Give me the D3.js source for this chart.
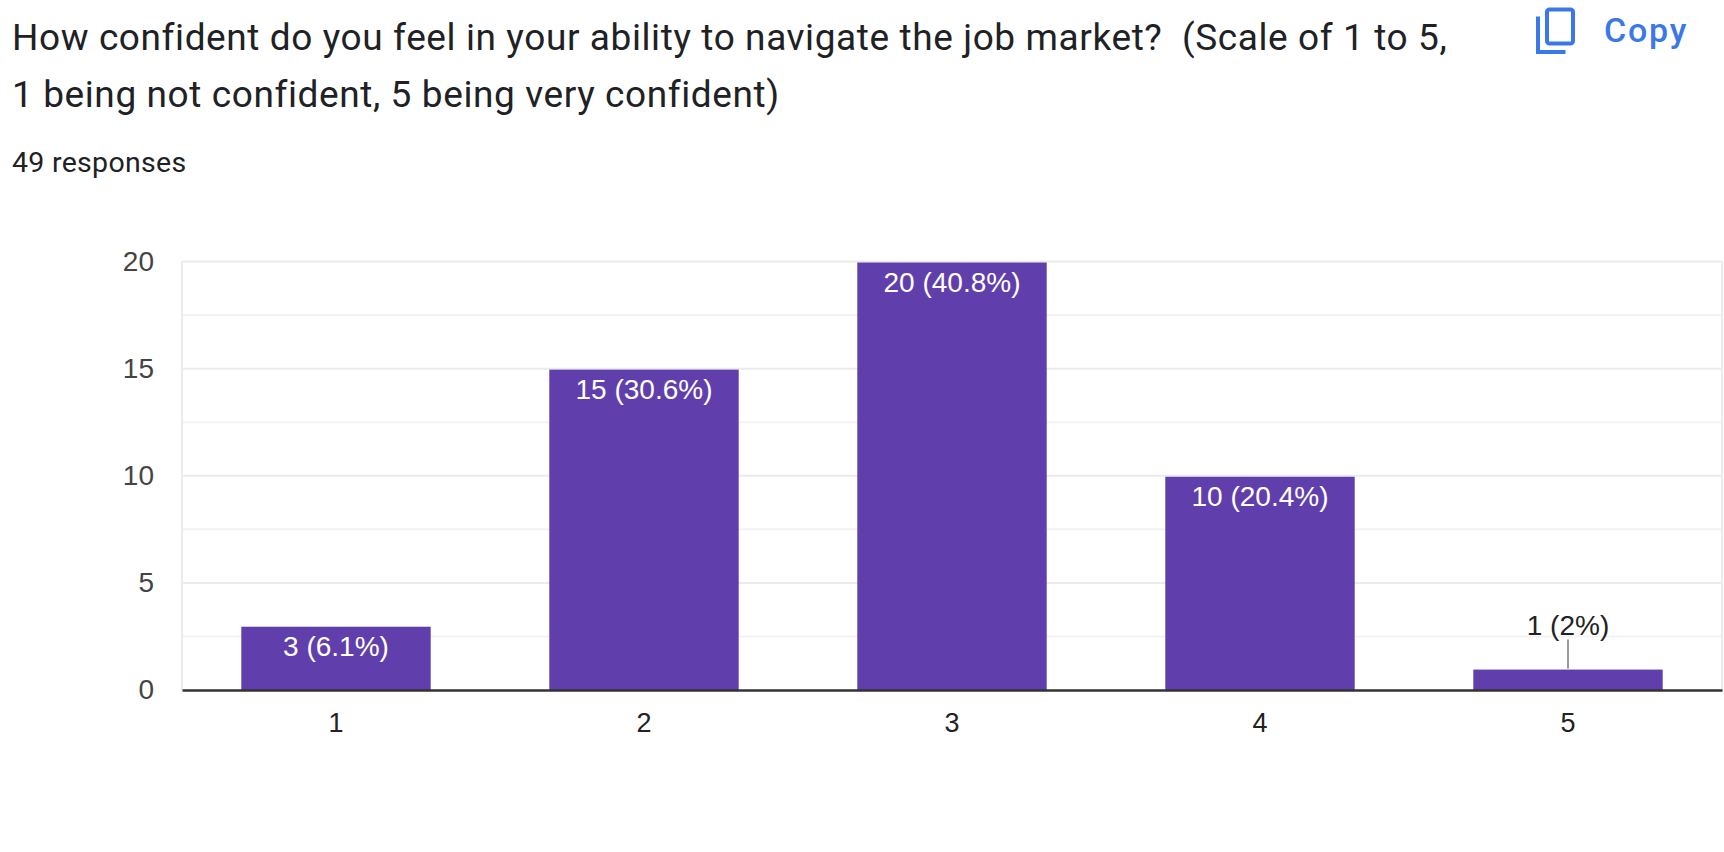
<!DOCTYPE html>
<html>
<head>
<meta charset="utf-8">
<script src="https://cdn.jsdelivr.net/npm/d3@7.9.0/dist/d3.min.js"></script>
<style>
  html, body { margin: 0; padding: 0; background: #fff; }
  svg { display: block; }
  text { white-space: pre; }
</style>
</head>
<body>
<svg id="chart" width="1724" height="852"></svg>
<script>
// --- data ---
const categories = ['1', '2', '3', '4', '5'];
const counts = [3, 15, 20, 10, 1];
const percents = ['6.1%', '30.6%', '40.8%', '20.4%', '2%'];
const yTicks = [0, 5, 10, 15, 20];
const minorTicks = [2.5, 7.5, 12.5, 17.5];

const titleLines = [
  'How confident do you feel in your ability to navigate the job market?  (Scale of 1 to 5,',
  '1 being not confident, 5 being very confident)'
];
const responsesText = '49 responses';

const svg = d3.select('#chart');

// --- header ---
svg.selectAll('text.title')
  .data(titleLines)
  .join('text')
  .attr('class', 'title')
  .attr('x', 12)
  .attr('y', (d, i) => 50 + i * 56.5)
  .attr('font-family', 'Roboto, sans-serif')
  .attr('font-size', 37)
  .attr('letter-spacing', 0.6)
  .attr('fill', '#202124')
  .text(d => d);

svg.append('text')
  .attr('x', 12)
  .attr('y', 171.5)
  .attr('font-family', 'Roboto, sans-serif')
  .attr('font-size', 28.5)
  .attr('letter-spacing', 0.3)
  .attr('fill', '#202124')
  .text(responsesText);

// copy button
const copy = svg.append('g').attr('fill', 'none').attr('stroke', '#3b78e7').attr('stroke-width', 4);
copy.append('rect').attr('x', 1547).attr('y', 9.5).attr('width', 26).attr('height', 34).attr('rx', 2.5);
copy.append('path').attr('d', 'M1538 16.5 V52 H1565.5');
svg.append('text')
  .attr('x', 1604)
  .attr('y', 41.5)
  .attr('font-family', 'Roboto, sans-serif')
  .attr('font-weight', 500)
  .attr('font-size', 34)
  .attr('letter-spacing', 1.8)
  .attr('fill', '#3b78e7')
  .text('Copy');

// --- chart ---
const plot = { left: 182, right: 1722, top: 261.5, bottom: 690 };

const x = d3.scaleBand()
  .domain(categories)
  .range([plot.left, plot.right])
  .paddingInner(0.385)
  .paddingOuter(0.1925);

const y = d3.scaleLinear()
  .domain([0, 20])
  .range([plot.bottom, plot.top]);

// minor gridlines
svg.append('g')
  .selectAll('line')
  .data(minorTicks)
  .join('line')
  .attr('x1', plot.left).attr('x2', plot.right)
  .attr('y1', d => y(d)).attr('y2', d => y(d))
  .attr('stroke', '#f3f3f3')
  .attr('stroke-width', 2);

// major gridlines
svg.append('g')
  .selectAll('line')
  .data(yTicks.filter(d => d > 0))
  .join('line')
  .attr('x1', plot.left).attr('x2', plot.right)
  .attr('y1', d => y(d)).attr('y2', d => y(d))
  .attr('stroke', '#ebebeb')
  .attr('stroke-width', 2);

// side borders
svg.append('g')
  .selectAll('line')
  .data([plot.left, plot.right])
  .join('line')
  .attr('x1', d => d).attr('x2', d => d)
  .attr('y1', plot.top).attr('y2', plot.bottom)
  .attr('stroke', '#ebebeb')
  .attr('stroke-width', 2);

// y axis labels
const yAxis = d3.axisLeft(y).tickValues(yTicks).tickSize(0).tickPadding(28);
svg.append('g')
  .attr('transform', `translate(${plot.left},0)`)
  .call(yAxis)
  .call(g => g.select('.domain').remove())
  .call(g => g.selectAll('text')
    .attr('font-family', 'Arial, "Liberation Sans", sans-serif')
    .attr('font-size', 28)
    .attr('fill', '#444'));

// bars
const rows = categories.map((c, i) => ({ cat: c, value: counts[i], pct: percents[i] }));

svg.append('g')
  .selectAll('rect')
  .data(rows)
  .join('rect')
  .attr('x', d => x(d.cat))
  .attr('y', d => y(d.value) + 1)
  .attr('width', x.bandwidth())
  .attr('height', d => plot.bottom - y(d.value) - 1)
  .attr('fill', '#603fad');

// labels inside tall bars, above short ones with a leader line
const inside = rows.filter(d => d.value >= 2);
const outside = rows.filter(d => d.value < 2);

svg.append('g')
  .selectAll('text')
  .data(inside)
  .join('text')
  .attr('x', d => x(d.cat) + x.bandwidth() / 2)
  .attr('y', d => y(d.value) + 30)
  .attr('text-anchor', 'middle')
  .attr('font-family', 'Arial, "Liberation Sans", sans-serif')
  .attr('font-size', 28)
  .attr('fill', '#fff')
  .text(d => `${d.value} (${d.pct})`);

const out = svg.append('g').selectAll('g').data(outside).join('g');
out.append('line')
  .attr('x1', d => x(d.cat) + x.bandwidth() / 2)
  .attr('x2', d => x(d.cat) + x.bandwidth() / 2)
  .attr('y1', d => y(d.value) - 29)
  .attr('y2', d => y(d.value))
  .attr('stroke', '#999')
  .attr('stroke-width', 2);
out.append('text')
  .attr('x', d => x(d.cat) + x.bandwidth() / 2)
  .attr('y', d => y(d.value) - 34)
  .attr('text-anchor', 'middle')
  .attr('font-family', 'Arial, "Liberation Sans", sans-serif')
  .attr('font-size', 28)
  .attr('fill', '#222')
  .text(d => `${d.value} (${d.pct})`);

// x axis
const xAxis = d3.axisBottom(x).tickSize(0).tickPadding(23);
svg.append('g')
  .attr('transform', `translate(0,${plot.bottom})`)
  .call(xAxis)
  .call(g => g.select('.domain')
    .attr('stroke', '#333')
    .attr('stroke-width', 2.5))
  .call(g => g.selectAll('text')
    .attr('font-family', 'Arial, "Liberation Sans", sans-serif')
    .attr('font-size', 27)
    .attr('fill', '#222'));
</script>
</body>
</html>
